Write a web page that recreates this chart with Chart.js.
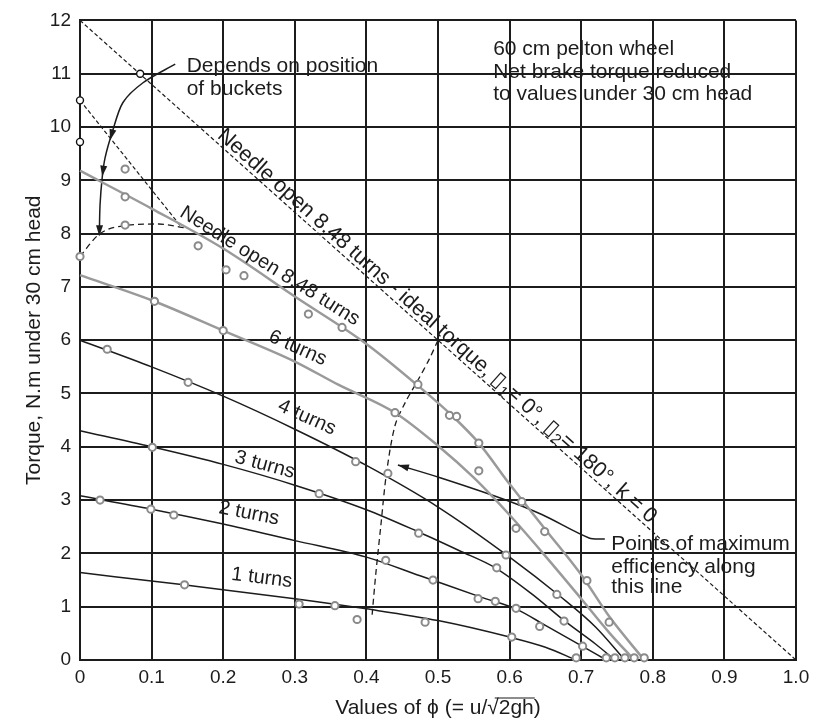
<!DOCTYPE html>
<html>
<head>
<meta charset="utf-8">
<script src="https://cdn.jsdelivr.net/npm/chart.js@4.4.1/dist/chart.umd.min.js"></script>
<style>
  html, body { margin: 0; padding: 0; background: #fff; }
  canvas { display: block; }
</style>
</head>
<body>
<canvas id="chart" width="817" height="723"></canvas>
<script>
// phi = u / sqrt(2gh), torque in N.m reduced to 30 cm head
const idealPhi = [0, 1.0];
const idealTorque = [12, 0];

const open848Phi = [0, 0.1, 0.2, 0.3, 0.4, 0.47, 0.52, 0.557, 0.6, 0.65, 0.7, 0.74, 0.788];
const open848Torque = [9.18, 8.47, 7.72, 6.82, 5.93, 5.17, 4.58, 4.07, 3.3, 2.45, 1.6, 0.8, 0];

const turns6Phi = [0, 0.1, 0.2, 0.3, 0.36, 0.44, 0.5, 0.55, 0.6, 0.65, 0.7, 0.74, 0.774];
const turns6Torque = [7.22, 6.75, 6.18, 5.6, 5.17, 4.64, 4.02, 3.42, 2.72, 1.95, 1.15, 0.5, 0];

const turns4Phi = [0, 0.1, 0.2, 0.3, 0.4, 0.5, 0.6, 0.67, 0.72, 0.761];
const turns4Torque = [6.0, 5.5, 4.95, 4.33, 3.65, 2.87, 1.93, 1.2, 0.62, 0];

const turns3Phi = [0, 0.1, 0.2, 0.3, 0.4, 0.47, 0.53, 0.58, 0.63, 0.68, 0.72, 0.747];
const turns3Torque = [4.3, 4.0, 3.67, 3.28, 2.82, 2.42, 2.05, 1.73, 1.25, 0.7, 0.3, 0];

const turns2Phi = [0, 0.1, 0.2, 0.3, 0.4, 0.475, 0.56, 0.61, 0.65, 0.7, 0.735];
const turns2Torque = [3.08, 2.83, 2.55, 2.24, 1.93, 1.58, 1.18, 0.95, 0.65, 0.27, 0];

const turns1Phi = [0, 0.145, 0.3, 0.4, 0.5, 0.6, 0.65, 0.693];
const turns1Torque = [1.64, 1.41, 1.15, 0.96, 0.74, 0.43, 0.24, 0];

// dashed: depends on position of buckets
const bucketLinePhi = [0, 0.14];
const bucketLineTorque = [10.5, 8.15];
const bucketArcPhi = [0, 0.027, 0.063, 0.11, 0.133, 0.15];
const bucketArcTorque = [7.57, 7.99, 8.15, 8.18, 8.14, 8.1];

// dashed: points of maximum efficiency
const bestPhi = [0.408, 0.413, 0.42, 0.428, 0.44, 0.455, 0.472, 0.488, 0.5];
const bestTorque = [0.85, 1.6, 2.5, 3.5, 4.4, 4.85, 5.25, 5.65, 6.0];

// measured points
const pointPhi = [0.063, 0.063, 0.063, 0, 0.165, 0.204, 0.229, 0.319, 0.366, 0.104, 0.2, 0.038, 0.151, 0.101,
  0.028, 0.099, 0.131, 0.146, 0.306, 0.356, 0.387, 0.334, 0.385, 0.43, 0.473, 0.427, 0.493, 0.482, 0.472,
  0.44, 0.516, 0.526, 0.557, 0.557, 0.617, 0.609, 0.649, 0.595, 0.582, 0.708, 0.666, 0.556, 0.58, 0.609,
  0.739, 0.676, 0.642, 0.702, 0.603, 0.693, 0.735, 0.747, 0.761, 0.774, 0.788];
const pointTorque = [9.21, 8.69, 8.16, 7.57, 7.77, 7.32, 7.21, 6.49, 6.24, 6.73, 6.18, 5.83, 5.21, 3.99,
  3.0, 2.83, 2.72, 1.41, 1.05, 1.02, 0.76, 3.12, 3.72, 3.5, 2.38, 1.87, 1.5, 0.71, 5.17,
  4.64, 4.59, 4.57, 4.07, 3.55, 2.97, 2.47, 2.41, 1.97, 1.73, 1.49, 1.23, 1.15, 1.1, 0.97,
  0.71, 0.73, 0.63, 0.26, 0.43, 0.04, 0.04, 0.04, 0.04, 0.04, 0.04];

const openPhi = [0.084, 0, 0];
const openTorque = [11.0, 10.5, 9.72];

// arrow shafts
const bucketArrowPhi = [0.133, 0.088, 0.06, 0.045, 0.035, 0.031, 0.028, 0.027];
const bucketArrowTorque = [11.18, 10.83, 10.46, 9.9, 9.42, 9.05, 8.54, 7.97];
const bestArrowPhi = [0.444, 0.503, 0.589, 0.645, 0.711, 0.733];
const bestArrowTorque = [3.66, 3.42, 3.03, 2.73, 2.29, 2.27];

const INK = '#1c1c1c';
const GRAY = '#9a9a9a';
const FAMILY = '"Liberation Sans", Arial, Helvetica, sans-serif';
const NOTE_FONT = '21px ' + FAMILY;
const LABEL_FONT = '20px ' + FAMILY;
const IDEAL_FONT = '21.5px ' + FAMILY;
const SUB_FONT = '15px ' + FAMILY;
const AXIS_FONT = '21px ' + FAMILY;

const noteLines = [
  ['Depends on position', 0.149, 11.15],
  ['of buckets', 0.149, 10.7],
  ['60 cm pelton wheel', 0.577, 11.46],
  ['Net brake torque reduced', 0.577, 11.03],
  ['to values under 30 cm head', 0.577, 10.61],
  ['Points of maximum', 0.742, 2.17],
  ['efficiency along', 0.742, 1.75],
  ['this line', 0.742, 1.36]
];

const curveLabels = [
  ['Needle open 8.48 turns', 0.265, 7.39, 32],
  ['6 turns', 0.304, 5.85, 24],
  ['4 turns', 0.317, 4.55, 24],
  ['3 turns', 0.258, 3.66, 15],
  ['2 turns', 0.236, 2.75, 11],
  ['1 turns', 0.254, 1.54, 7]
];

const idealLabelAt = [0.187, 9.756];
const idealLabel = [
  ['Needle open 8.48 turns - ideal torque, \u25AF', false],
  ['1', true],
  ['= 0°, \u25AF', false],
  ['2', true],
  ['= 180°, k = 0', false]
];

// tip phi, tip torque, tail phi, tail torque
const arrowTips = [
  [0.042, 9.75, 0.048, 10.05],
  [0.031, 9.07, 0.034, 9.35],
  [0.027, 7.95, 0.0275, 8.3],
  [0.444, 3.66, 0.47, 3.56]
];

const pts = (xs, ys) => xs.map((v, i) => ({ x: v, y: ys[i] }));

function curve(xs, ys, color, width, dash, tension) {
  return {
    data: pts(xs, ys),
    showLine: true,
    borderColor: color,
    borderWidth: width,
    borderDash: dash || [],
    pointRadius: 0,
    tension: tension || 0,
    cubicInterpolationMode: tension ? 'default' : 'monotone',
    clip: false
  };
}

const notesPlugin = {
  id: 'notes',
  afterDatasetsDraw(chart) {
    const { ctx, chartArea, scales: { x, y } } = chart;
    const px = v => x.getPixelForValue(v);
    const py = v => y.getPixelForValue(v);
    ctx.save();
    ctx.fillStyle = INK;
    ctx.strokeStyle = INK;

    ctx.font = NOTE_FONT;
    ctx.textAlign = 'left';
    ctx.textBaseline = 'middle';
    noteLines.forEach(([t, a, b]) => ctx.fillText(t, px(a), py(b)));

    ctx.font = LABEL_FONT;
    ctx.textAlign = 'center';
    curveLabels.forEach(([t, a, b, deg]) => {
      ctx.save();
      ctx.translate(px(a), py(b));
      ctx.rotate(deg * Math.PI / 180);
      ctx.fillText(t, 0, 0);
      ctx.restore();
    });

    // label laid along the ideal torque line
    const ang = Math.atan2(py(idealTorque[1]) - py(idealTorque[0]), px(idealPhi[1]) - px(idealPhi[0]));
    ctx.save();
    ctx.translate(px(idealLabelAt[0]), py(idealLabelAt[1]));
    ctx.rotate(ang);
    ctx.textAlign = 'left';
    ctx.textBaseline = 'alphabetic';
    let cx = 0;
    idealLabel.forEach(([t, sub]) => {
      ctx.font = sub ? SUB_FONT : IDEAL_FONT;
      ctx.fillText(t, cx, sub ? 0 : -4);
      cx += ctx.measureText(t).width;
    });
    ctx.restore();

    arrowTips.forEach(([ta, tb, fa, fb]) => {
      const X = px(ta), Y = py(tb);
      const a = Math.atan2(Y - py(fb), X - px(fa));
      const L = 11, W = 3.5;
      ctx.beginPath();
      ctx.moveTo(X, Y);
      ctx.lineTo(X - L * Math.cos(a) + W * Math.sin(a), Y - L * Math.sin(a) - W * Math.cos(a));
      ctx.lineTo(X - L * Math.cos(a) - W * Math.sin(a), Y - L * Math.sin(a) + W * Math.cos(a));
      ctx.closePath();
      ctx.fill();
    });

    // x axis title with a root sign
    ctx.font = AXIS_FONT;
    ctx.textAlign = 'left';
    ctx.textBaseline = 'alphabetic';
    const segs = ['Values of \u03D5 (= u/', '\u221A', '2gh', ')'];
    const ws = segs.map(s => ctx.measureText(s).width);
    let sx = (chartArea.left + chartArea.right) / 2 - ws.reduce((p, q) => p + q, 0) / 2;
    const base = chartArea.bottom + 54;
    segs.forEach((s, i) => {
      ctx.fillText(s, sx, base);
      if (i === 2) {
        ctx.lineWidth = 1.2;
        ctx.beginPath();
        ctx.moveTo(sx - ws[1] * 0.35, base - 16);
        ctx.lineTo(sx + ws[2] + 1, base - 16);
        ctx.stroke();
      }
      sx += ws[i];
    });
    ctx.restore();
  }
};

const grid = { color: INK, lineWidth: 2, drawTicks: false };

new Chart(document.getElementById('chart').getContext('2d'), {
  type: 'scatter',
  data: {
    datasets: [
      { data: pts(openPhi, openTorque), pointRadius: 3.5, pointBorderWidth: 1.4,
        pointBorderColor: '#111', pointBackgroundColor: '#fff', clip: false },
      { data: pts(pointPhi, pointTorque), pointRadius: 3.6, pointBorderWidth: 2,
        pointBorderColor: '#8a8a8a', pointBackgroundColor: '#fff', clip: false },
      curve(open848Phi, open848Torque, GRAY, 2.5),
      curve(turns6Phi, turns6Torque, GRAY, 2.5),
      curve(turns4Phi, turns4Torque, INK, 1.5),
      curve(turns3Phi, turns3Torque, INK, 1.5),
      curve(turns2Phi, turns2Torque, INK, 1.5),
      curve(turns1Phi, turns1Torque, INK, 1.5),
      curve(idealPhi, idealTorque, INK, 1.2, [4, 2.5]),
      curve(bucketLinePhi, bucketLineTorque, INK, 1.2, [4, 2.5]),
      curve(bucketArcPhi, bucketArcTorque, INK, 1.3, [6, 4]),
      curve(bestPhi, bestTorque, INK, 1.3, [6, 4], 0.3),
      curve(bucketArrowPhi, bucketArrowTorque, INK, 1.5, null, 0.3),
      curve(bestArrowPhi, bestArrowTorque, INK, 1.5, null, 0.3)
    ]
  },
  options: {
    responsive: false,
    animation: false,
    layout: { padding: { top: 14, right: 21, bottom: 0, left: 0 } },
    plugins: { legend: { display: false }, tooltip: { enabled: false } },
    scales: {
      x: {
        type: 'linear', min: 0, max: 1,
        ticks: {
          stepSize: 0.1, padding: 6, color: INK, font: { family: FAMILY, size: 19 },
          callback: v => (Math.abs(v) < 1e-9 ? '0' : v.toFixed(1))
        },
        grid: grid,
        border: { color: INK, width: 2 },
        afterFit: s => { s.height = 63; }
      },
      y: {
        min: 0, max: 12,
        ticks: { stepSize: 1, padding: 9, color: INK, font: { family: FAMILY, size: 19 } },
        grid: grid,
        border: { color: INK, width: 2 },
        title: {
          display: true, text: 'Torque, N.m under 30 cm head', color: INK,
          font: { family: FAMILY, size: 21 }, padding: { top: 22, bottom: 0 }
        },
        afterFit: s => { s.width = 80; }
      }
    }
  },
  plugins: [notesPlugin]
});
</script>
</body>
</html>
